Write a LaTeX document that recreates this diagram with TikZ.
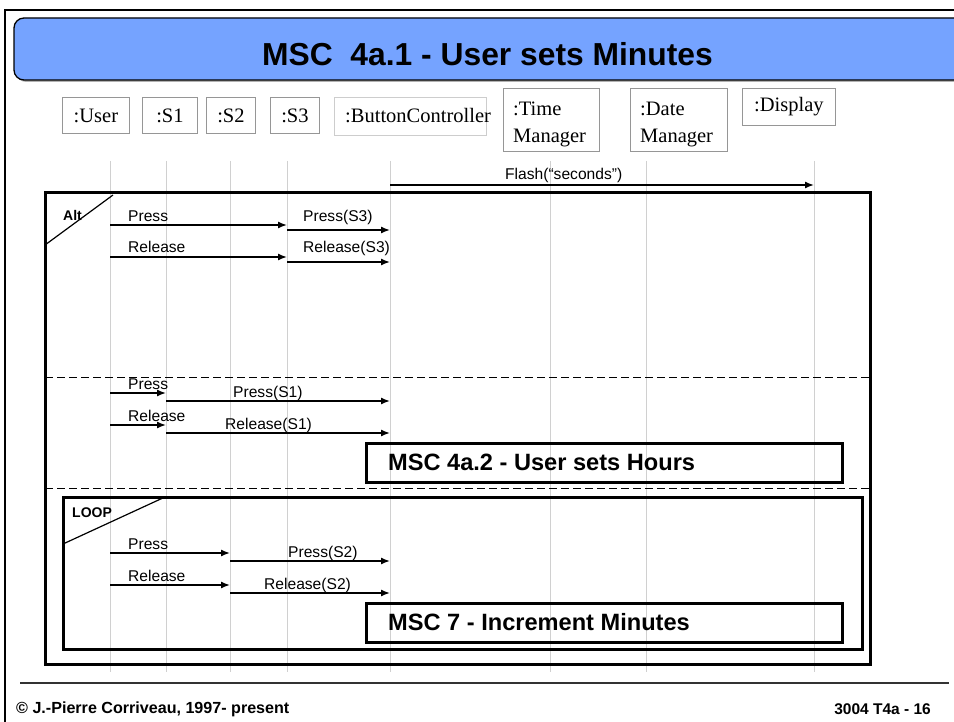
\documentclass[tikz,border=0pt]{standalone}
\usepackage{fontspec}
\setmainfont{Liberation Serif}
\newfontfamily\arialf{Liberation Sans}
\usetikzlibrary{arrows.meta}
\definecolor{titleblue}{RGB}{117,163,255}
\definecolor{lifegray}{RGB}{208,208,208}
\definecolor{headgray}{RGB}{150,150,150}
\definecolor{headlight}{RGB}{205,205,205}
\begin{document}
\begin{tikzpicture}[x=1pt,y=-1pt,
  lifeline/.style={draw=lifegray, line width=0.9pt},
  headbox/.style={draw=headgray, line width=0.9pt, inner sep=0pt, anchor=north west},
  headtext/.style={font=\fontsize{20.5}{27}\selectfont, inner sep=0pt},
  msg/.style={line width=1.4pt, -{Latex[length=9pt,width=7pt]}},
  msglabel/.style={font=\arialf\fontsize{15.6}{18}\selectfont, inner sep=0pt, anchor=base west},
  framebox/.style={draw, line width=3pt},
  opname/.style={font=\arialf\bfseries\fontsize{14}{17}\selectfont, inner sep=0pt, anchor=base west},
  refbox/.style={draw, line width=3pt, inner sep=0pt, anchor=north west},
  reftext/.style={font=\arialf\bfseries\fontsize{23.6}{27}\selectfont, inner sep=0pt, anchor=west},
  sep/.style={line width=1pt, dash pattern=on 8pt off 4pt},
  foot/.style={font=\arialf\bfseries\fontsize{15.5}{18}\selectfont, inner sep=0pt}
]
\useasboundingbox (0,0) rectangle (954,722);
\clip (0,0) rectangle (954,722);

% page frame
\draw[line width=2pt] (5,740) -- (5,10) -- (970,10);

% title banner
\fill[gray!60, rounded corners=10pt] (16,20) rectangle (970,82);
\draw[fill=titleblue, line width=1.3pt, rounded corners=10pt] (14,18) rectangle (968,80);
\node[font=\arialf\bfseries\fontsize{31.8}{36}\selectfont, inner sep=0pt] (title) at (487.5,54) {MSC\ \ 4a.1 - User sets Minutes};

% lifeline coordinates
\coordinate (User) at (110,161);   \coordinate (UserE) at (110,672);
\coordinate (S1) at (166,161);     \coordinate (S1E) at (166,672);
\coordinate (S2) at (230,161);     \coordinate (S2E) at (230,672);
\coordinate (S3) at (287,161);     \coordinate (S3E) at (287,672);
\coordinate (BC) at (390,161);     \coordinate (BCE) at (390,672);
\coordinate (TM) at (550,161);     \coordinate (TME) at (550,672);
\coordinate (DM) at (646,161);     \coordinate (DME) at (646,672);
\coordinate (DI) at (814,161);     \coordinate (DIE) at (814,672);
\foreach \a/\b in {User/UserE,S1/S1E,S2/S2E,S3/S3E,BC/BCE,TM/TME,DM/DME,DI/DIE}
  \draw[lifeline] (\a) -- (\b);

% heads
\node[headbox, minimum width=67, minimum height=36] (hUserBox) at (62,97) {};
\node[headtext] (hUser) at (hUserBox.center) {:User};
\node[headbox, minimum width=55, minimum height=36] (hS1Box) at (142,97) {};
\node[headtext] (hS1) at (hS1Box.center) {:S1};
\node[headbox, minimum width=49, minimum height=36] (hS2Box) at (206,97) {};
\node[headtext] (hS2) at (hS2Box.center) {:S2};
\node[headbox, minimum width=49, minimum height=36] (hS3Box) at (270,97) {};
\node[headtext] (hS3) at (hS3Box.center) {:S3};
\node[headbox, draw=headlight, minimum width=152, minimum height=38] (hBCBox) at (334,97) {};
\node[headtext, anchor=west] (hBC) at (345,116) {:ButtonController};
\node[headbox, minimum width=96, minimum height=63] (hTMBox) at (503,88) {};
\node[headtext, align=left, anchor=north west] (hTM) at (513,101.5) {:Time\\Manager};
\node[headbox, minimum width=97, minimum height=63] (hDMBox) at (630,88) {};
\node[headtext, align=left, anchor=north west] (hDM) at (640,101.5) {:Date\\Manager};
\node[headbox, minimum width=93, minimum height=37] (hDIBox) at (742,88) {};
\node[headtext] (hDI) at (hDIBox.center) {:Display};

% Flash
\draw[msg] (BC |- 0,185) -- (DI |- 0,185);
\node[msglabel] (lFlash) at (505,180) {Flash(“seconds”)};

% Alt frame
\draw[framebox] (45,193) rectangle (870,664);
\draw[line width=1.2pt] (45,245) -- (113,195);
\node[opname] (lAlt) at (63,221) {Alt};

% section 1
\draw[msg] (User |- 0,225) -- (S3 |- 0,225);
\node[msglabel] (l1) at (128,222) {Press};
\draw[msg] (S3 |- 0,230) -- (BC |- 0,230);
\node[msglabel] (l2) at (303,222) {Press(S3)};
\draw[msg] (User |- 0,257) -- (S3 |- 0,257);
\node[msglabel] (l3) at (128,253) {Release};
\draw[msg] (S3 |- 0,262) -- (BC |- 0,262);
\node[msglabel] (l4) at (303,253) {Release(S3)};

% separator 1
\draw[sep] (45,377) -- (870,377);

% section 2
\draw[msg] (User |- 0,393) -- (S1 |- 0,393);
\node[msglabel] (l5) at (128,389) {Press};
\draw[msg] (S1 |- 0,401) -- (BC |- 0,401);
\node[msglabel] (l6) at (233,397) {Press(S1)};
\draw[msg] (User |- 0,425) -- (S1 |- 0,425);
\node[msglabel] (l7) at (128,421) {Release};
\draw[msg] (S1 |- 0,433) -- (BC |- 0,433);
\node[msglabel] (l8) at (225,429) {Release(S1)};
\node[refbox, minimum width=476, minimum height=39] (ref1) at (365,442) {};
\node[reftext] (ref1t) at (388,462) {MSC 4a.2 - User sets Hours};

% separator 2
\draw[sep] (45,488) -- (870,488);

% LOOP frame
\draw[framebox] (63,497) rectangle (862,649);
\draw[line width=1.2pt] (63,544) -- (165,497);
\node[opname] (lLoop) at (72,517) {LOOP};
\draw[msg] (User |- 0,553) -- (S2 |- 0,553);
\node[msglabel] (l9) at (128,549) {Press};
\draw[msg] (S2 |- 0,561) -- (BC |- 0,561);
\node[msglabel] (l10) at (288,557) {Press(S2)};
\draw[msg] (User |- 0,585) -- (S2 |- 0,585);
\node[msglabel] (l11) at (128,581) {Release};
\draw[msg] (S2 |- 0,593) -- (BC |- 0,593);
\node[msglabel] (l12) at (264,589) {Release(S2)};
\node[refbox, minimum width=476, minimum height=39] (ref2) at (365,602) {};
\node[reftext] (ref2t) at (388,622) {MSC 7 - Increment Minutes};

% footer
\draw[line width=1.5pt, black!80] (20,683) -- (949,683);
\node[foot, anchor=base west, font=\arialf\bfseries\fontsize{16.1}{18}\selectfont] (fl) at (16,713) {© J.-Pierre Corriveau, 1997- present};
\node[foot, anchor=base east] (fr) at (931,714) {3004 T4a - 16};
\end{tikzpicture}
\end{document}
